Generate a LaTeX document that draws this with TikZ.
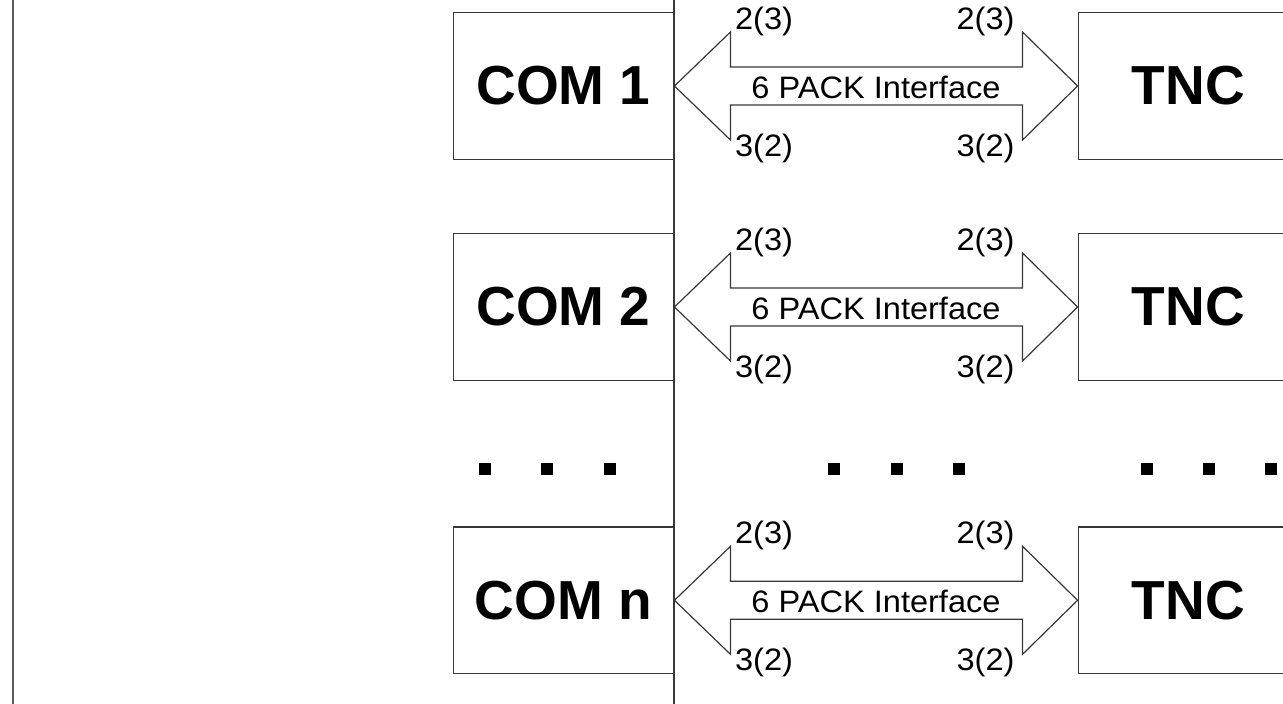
\documentclass[tikz,border=0pt]{standalone}
\usepackage{fontspec}
\setmainfont{Liberation Sans}
\usetikzlibrary{calc}
\newcommand\widetext[1]{\scalebox{1.05}[1]{#1}}
\begin{document}
\begin{tikzpicture}[x=1pt,y=-1pt,
  line/.style={draw=black!78, line width=1.2pt},
  unit/.style={line, minimum width=220.7pt, minimum height=146.6pt, inner sep=0pt,
    font=\fontsize{55}{60}\selectfont\bfseries},
  pin/.style={font=\fontsize{31}{33}\selectfont, inner sep=0pt},
  dot/.style={fill=black, minimum size=12.5pt, inner sep=0pt}]
\useasboundingbox (0,0) rectangle (1283,704);
\clip (0,0) rectangle (1283,704);
% separators
\coordinate (lt) at (13,0);   \coordinate (lb) at (13,704);
\coordinate (mt) at (674,0);  \coordinate (mb) at (674,704);
\draw[draw=black!65, line width=2pt] (lt) -- (lb);
\draw[line] (mt) -- (mb);
% one row per serial port
\foreach \c/\n/\lab in {86/1/COM 1, 307/2/COM 2, 600.3/n/COM n}{
  \node[unit] (com\n) at (563.5,\c) {\lab};
  \node[unit] (tnc\n) at (1188.5,\c) {TNC};
  \draw[line] (com\n.east) -- ($(com\n.east)+(56,-54)$) -- ($(com\n.east)+(56,-19)$)
    -- ($(tnc\n.west)+(-55,-19)$) -- ($(tnc\n.west)+(-55,-54)$) -- (tnc\n.west)
    -- ($(tnc\n.west)+(-55,54)$) -- ($(tnc\n.west)+(-55,19)$)
    -- ($(com\n.east)+(56,19)$) -- ($(com\n.east)+(56,54)$) -- cycle;
  \node[pin] (if\n) at (876,\c+1.5) {\widetext{6 PACK Interface}};
  \node[pin] (ta\n) at (764,\c-65) {\widetext{2(3)}};
  \node[pin] (tb\n) at (985.5,\c-65) {\widetext{2(3)}};
  \node[pin] (ba\n) at (764,\c+62) {\widetext{3(2)}};
  \node[pin] (bb\n) at (985.5,\c+62) {\widetext{3(2)}};
}
% ellipsis marks between rows
\foreach \x [count=\i] in {485,547,610,834,897,959,1147,1209,1271}
  \node[dot] (dot\i) at (\x,469) {};
\end{tikzpicture}
\end{document}
